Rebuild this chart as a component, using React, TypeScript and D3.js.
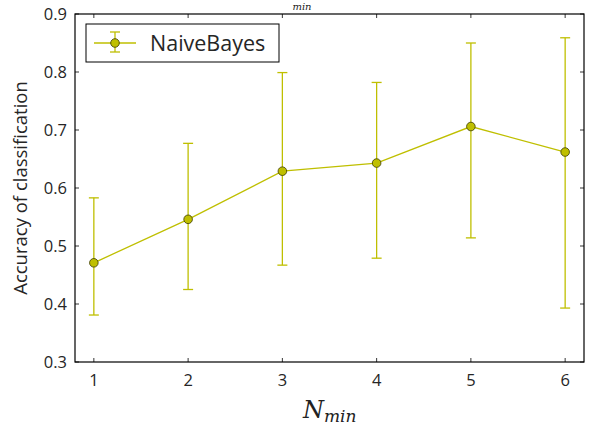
import React from "react";
import * as d3 from "d3";

const xValues = [1, 2, 3, 4, 5, 6];
const means = [0.471, 0.546, 0.629, 0.643, 0.706, 0.662];
const lowers = [0.381, 0.425, 0.467, 0.479, 0.514, 0.393];
const uppers = [0.583, 0.677, 0.799, 0.782, 0.850, 0.859];
const yTicks = [0.3, 0.4, 0.5, 0.6, 0.7, 0.8, 0.9];
const xTicks = [1, 2, 3, 4, 5, 6];
const seriesName = "NaiveBayes";

export default function App() {
  const W = 590, H = 435;
  const left = 75, right = 584, top = 14, bottom = 362;
  const x = d3.scaleLinear().domain([0.8, 6.2]).range([left, right]);
  const y = d3.scaleLinear().domain([0.3, 0.9]).range([bottom, top]);
  const color = "#bfbf00";
  const line = d3.line<number>().x((_, i) => x(xValues[i])).y((d) => y(d));
  const font = "'Open Sans', sans-serif";
  const capW = 5;
  return (
    <svg width={W} height={H} style={{ position: "absolute", left: 0, top: 0, background: "#fff" }}>
      <rect x={0} y={0} width={W} height={H} fill="#fff" />
      <text x={302} y={10} fontFamily="DejaVu Serif, serif" fontStyle="italic" fontSize={10} textAnchor="middle" fill="#222">min</text>
      {/* error bars */}
      {xValues.map((xv, i) => (
        <g key={"e" + i} stroke={color} strokeWidth={1.3}>
          <line x1={x(xv)} x2={x(xv)} y1={y(lowers[i])} y2={y(uppers[i])} />
          <line x1={x(xv) - capW} x2={x(xv) + capW} y1={y(lowers[i])} y2={y(lowers[i])} />
          <line x1={x(xv) - capW} x2={x(xv) + capW} y1={y(uppers[i])} y2={y(uppers[i])} />
        </g>
      ))}
      <path d={line(means) || ""} fill="none" stroke={color} strokeWidth={1.3} />
      {xValues.map((xv, i) => (
        <circle key={"m" + i} cx={x(xv)} cy={y(means[i])} r={4.3} fill={color} stroke="#3a3a00" strokeWidth={0.8} />
      ))}
      {/* axes frame */}
      <rect x={left} y={top} width={right - left} height={bottom - top} fill="none" stroke="#000" strokeWidth={1.2} />
      {yTicks.map((t) => (
        <g key={"y" + t}>
          <line x1={left} x2={left + 4} y1={y(t)} y2={y(t)} stroke="#000" strokeWidth={0.8} />
          <line x1={right} x2={right - 4} y1={y(t)} y2={y(t)} stroke="#000" strokeWidth={0.8} />
          <text x={left - 8} y={y(t)} dy="0.35em" textAnchor="end" fontFamily={font} fontSize={16.5} fill="#262626">{t.toFixed(1)}</text>
        </g>
      ))}
      {xTicks.map((t) => (
        <g key={"x" + t}>
          <line x1={x(t)} x2={x(t)} y1={bottom} y2={bottom - 4} stroke="#000" strokeWidth={0.8} />
          <line x1={x(t)} x2={x(t)} y1={top} y2={top + 4} stroke="#000" strokeWidth={0.8} />
          <text x={x(t)} y={bottom + 24} textAnchor="middle" fontFamily={font} fontSize={16.5} fill="#262626">{t}</text>
        </g>
      ))}
      <text transform={`translate(27,${(top + bottom) / 2}) rotate(-90)`} textAnchor="middle" fontFamily={font} fontSize={18.5} fill="#262626">Accuracy of classification</text>
      <text x={303} y={418} fontFamily="DejaVu Serif, serif" fontStyle="italic" fill="#222">
        <tspan fontSize={24}>N</tspan>
        <tspan fontSize={17} dy={4}>min</tspan>
      </text>
      {/* legend */}
      <rect x={86} y={24} width={193} height={38} fill="#fff" stroke="#000" strokeWidth={1} />
      <g stroke={color} strokeWidth={1.3}>
        <line x1={94} x2={136} y1={43} y2={43} />
        <line x1={115} x2={115} y1={32} y2={52} />
        <line x1={110} x2={120} y1={32} y2={32} />
        <line x1={110} x2={120} y1={52} y2={52} />
      </g>
      <circle cx={115} cy={43} r={4.3} fill={color} stroke="#3a3a00" strokeWidth={0.8} />
      <text x={150} y={43} dy="0.35em" fontFamily={font} fontSize={21.5} fill="#262626">{seriesName}</text>
    </svg>
  );
}
